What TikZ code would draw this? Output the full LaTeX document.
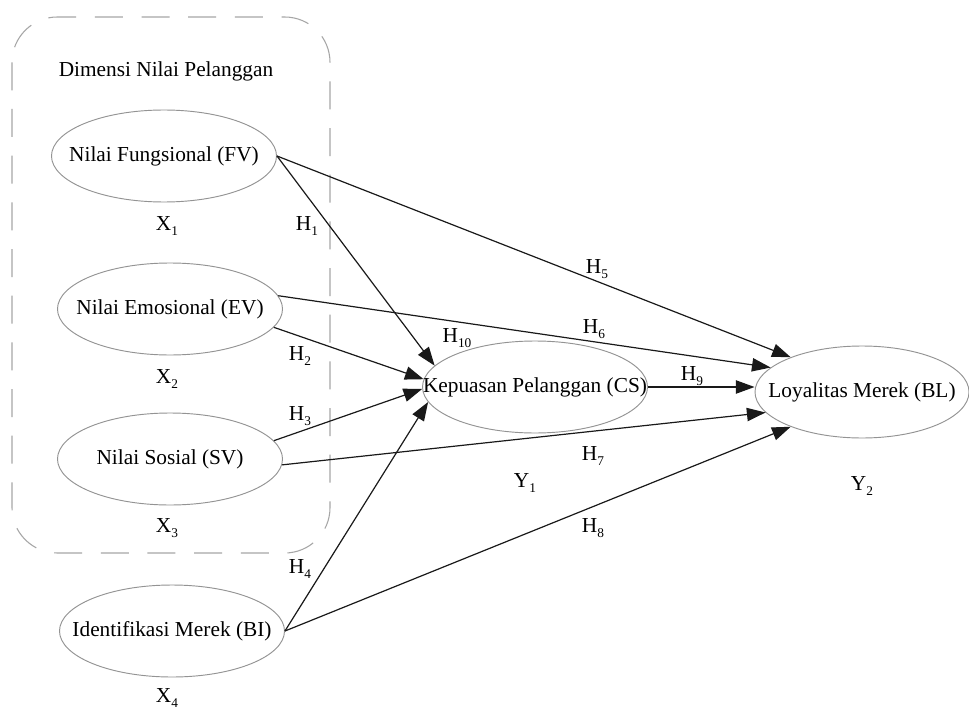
\documentclass[tikz,border=0pt]{standalone}
\usepackage{fontspec}
\setmainfont{Liberation Serif}
\usetikzlibrary{shapes.geometric,arrows.meta}
\newcommand\lowsub[1]{\raisebox{-0.55ex}{\fontsize{10}{10}\selectfont #1}}
\begin{document}
\begin{tikzpicture}[x=0.75pt,y=-0.75pt,
  every node/.style={font=\fontsize{16}{19}\selectfont},
  var/.style={ellipse,draw=gray!85,line width=0.7pt,minimum width=168.75pt,minimum height=69pt,inner sep=0pt,
    label={[inner sep=0pt]center:#1}},
  lbl/.style={anchor=base,inner sep=0pt},
  arr/.style={draw=black!90,line width=0.9pt,-{Triangle[length=14pt,width=10pt]}},
  grp/.style={draw=gray!70,line width=0.8pt,dash pattern=on 21pt off 14pt,rounded corners=34pt}]
\useasboundingbox (0,0) rectangle (969,709);
\fill[white] (0,0) rectangle (969,709);
% group box
\draw[grp] (12,17) rectangle (330,553);
\node[lbl] (title) at (166,77) {Dimensi Nilai Pelanggan};
% variables
\node[var={Nilai Fungsional (FV)}] (FV) at (164,156) {};
\node[var={Nilai Emosional (EV)}] (EV) at (170,309) {};
\node[var={Nilai Sosial (SV)}] (SV) at (170,459) {};
\node[var={Identifikasi Merek (BI)}] (BI) at (172,631) {};
\node[var={Kepuasan Pelanggan (CS)}] (CS) at (535,387) {};
\node[var={Loyalitas Merek (BL)},minimum width=160.5pt] (BL) at (862,392) {};
% variable labels
\node[lbl] (x1) at (167,230) {X\lowsub{1}};
\node[lbl] (x2) at (167,383) {X\lowsub{2}};
\node[lbl] (x3) at (167,532) {X\lowsub{3}};
\node[lbl] (x4) at (167,702) {X\lowsub{4}};
\node[lbl] (y1) at (525,487) {Y\lowsub{1}};
\node[lbl] (y2) at (862,490) {Y\lowsub{2}};
% hypothesis labels
\node[lbl] (h1) at (307,230) {H\lowsub{1}};
\node[lbl] (h2) at (300,360) {H\lowsub{2}};
\node[lbl] (h3) at (300,420) {H\lowsub{3}};
\node[lbl] (h4) at (300,573) {H\lowsub{4}};
\node[lbl] (h5) at (597,273) {H\lowsub{5}};
\node[lbl] (h6) at (594,333) {H\lowsub{6}};
\node[lbl] (h7) at (593,460) {H\lowsub{7}};
\node[lbl] (h8) at (593,532) {H\lowsub{8}};
\node[lbl] (h9) at (692,380) {H\lowsub{9}};
\node[lbl] (h10) at (457,342) {H\lowsub{10}};
% connectors
\draw[arr] (FV.east) -- (CS.168);
\draw[arr] (FV.east) -- (BL.154);
\draw[arr] (EV.7) -- (BL.165);
\draw[arr] (EV.350) -- (CS.176);
\draw[arr] (SV.10) -- (CS.181);
\draw[arr] (SV.357) -- (BL.192);
\draw[arr] (BI.east) -- (CS.188);
\draw[arr] (BI.east) -- (BL.206);
\draw[arr] (CS.east) -- (CS.east -| BL.west);
\end{tikzpicture}
\end{document}
